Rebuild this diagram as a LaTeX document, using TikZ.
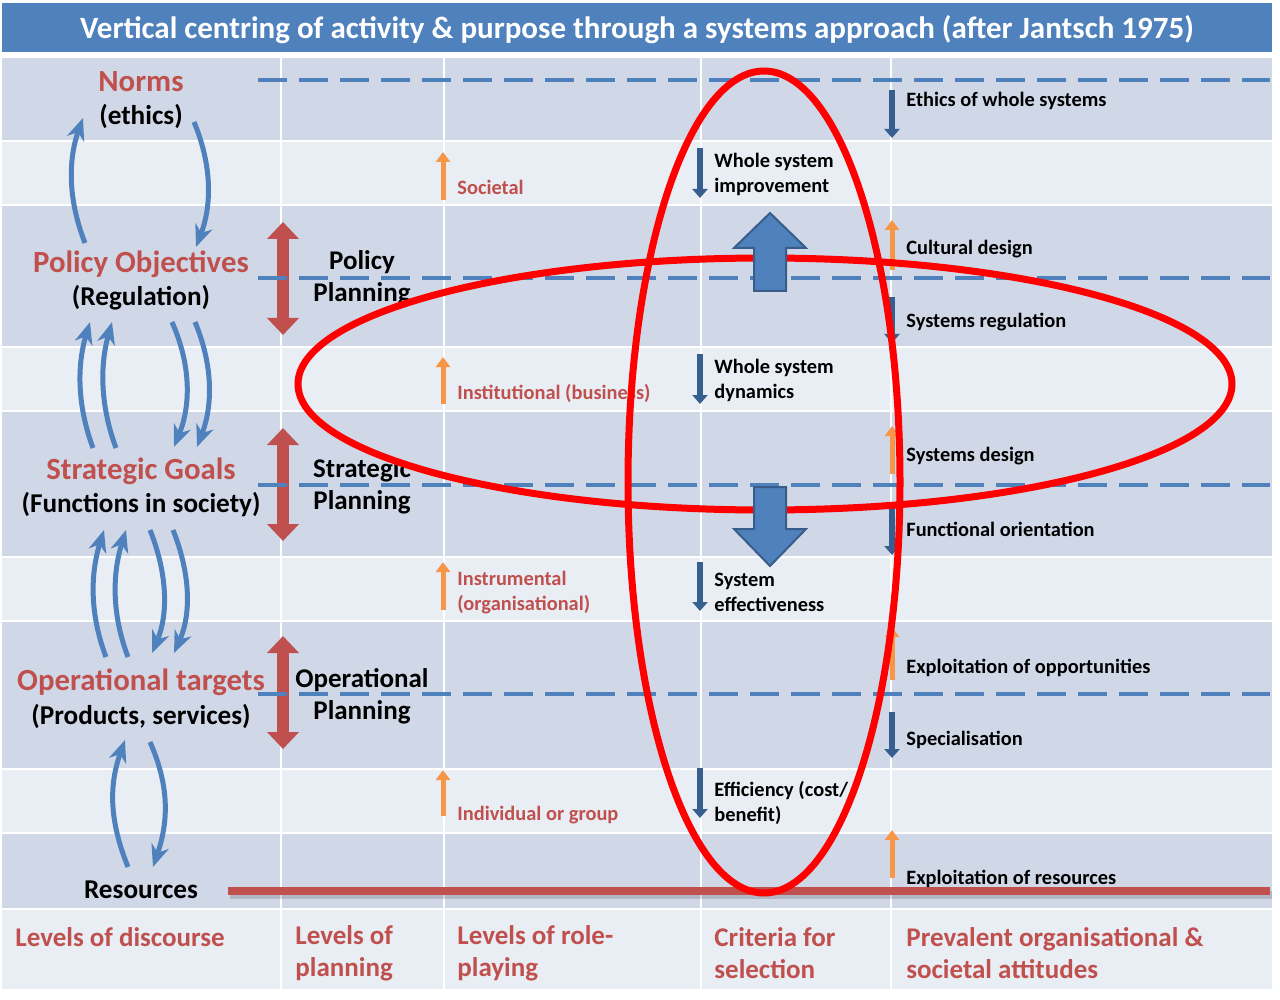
\documentclass[tikz,border=0pt]{standalone}
\usepackage{fontspec}
\setmainfont{Carlito}
\definecolor{vcblue}{RGB}{79,129,189}
\definecolor{vcedge}{RGB}{56,93,138}
\definecolor{vcnavy}{RGB}{54,94,143}
\definecolor{vcred}{RGB}{192,80,77}
\definecolor{vcorange}{RGB}{247,150,70}
\definecolor{vcdark}{RGB}{208,216,232}
\definecolor{vclight}{RGB}{233,237,244}
\definecolor{vcbright}{RGB}{255,0,0}
\usetikzlibrary{arrows.meta}

\begin{document}
\begin{tikzpicture}[x=0.5pt,y=-0.5pt,
  vchead/.style={font=\fontsize{15.5pt}{18pt}\selectfont\bfseries,text=white,inner sep=0pt,yshift=-1pt},
  vclevel/.style={font=\fontsize{15.4pt}{18pt}\selectfont\bfseries,text=vcred,inner sep=0pt,yshift=-1pt},
  vcsub/.style={font=\fontsize{13.6pt}{16pt}\selectfont\bfseries,inner sep=0pt,yshift=-1pt},
  vcplan/.style={font=\fontsize{13.5pt}{16pt}\selectfont\bfseries,align=center,inner sep=0pt,yshift=-1pt},
  vcnote/.style={font=\fontsize{10.2pt}{12.5pt}\selectfont\bfseries,align=left,anchor=west,inner sep=0pt,yshift=-1.25pt},
  vcfoot/.style={font=\fontsize{13.5pt}{16pt}\selectfont\bfseries,text=vcred,align=left,anchor=west,inner sep=0pt,yshift=-1pt},
  vcdash/.style={vcblue,line width=1.75pt,dash pattern=on 14.5pt off 6pt},
  vcloop/.style={vcblue,line width=2.5pt,-{Stealth[length=11pt,width=9pt,inset=3.5pt]}},
  vcrange/.style={vcred,line width=6pt,{Triangle[length=8.5pt,width=15.5pt]}-{Triangle[length=8.5pt,width=15.5pt]}},
  vcup/.style={vcorange,line width=2.5pt,-{Triangle[length=5pt,width=7pt]}},
  vcdown/.style={vcnavy,line width=2.75pt,-{Triangle[length=4.5pt,width=7.5pt]}},
  vcringline/.style={draw=vcbright,line width=3.5pt},
  vcblock/.style={fill=vcblue,draw=vcedge,line width=1pt,line join=miter}
]
  \useasboundingbox (0,0) rectangle (1280,1000);
  \fill[white] (0,0) rectangle (1280,1000);

  % Title bar
  \fill[vcblue] (2,3) rectangle (1272,52);
  \node[vchead] (title) at (637,28) {Vertical centring of activity \& purpose through a systems approach (after Jantsch 1975)};

  % Table bands
  \foreach \ya/\yb/\c in {58/140/vcdark,142/204/vclight,206/346/vcdark,348/410/vclight,
    412/556/vcdark,558/620/vclight,622/768/vcdark,770/832/vclight,834/908/vcdark,910/989/vclight}
    \fill[\c] (2,\ya) rectangle (1272,\yb);
  \foreach \x in {281,444,701,891}
    \draw[white,line width=1pt] (\x,58) -- (\x,989);

  % Levels of discourse
  \node[vclevel] (norms) at (141,80) {Norms};
  \node[vcsub] (ethics) at (141,114) {(ethics)};
  \node[vclevel] (polobj) at (141,262) {Policy Objectives};
  \node[vcsub] (regul) at (141,296) {(Regulation)};
  \node[vclevel] (stratg) at (141,469) {Strategic Goals};
  \node[vcsub] (funcs) at (141,503) {(Functions in society)};
  \node[vclevel] (optgt) at (141,680) {Operational targets};
  \node[vcsub] (prods) at (141,714) {(Products, services)};
  \node[vcsub] (resrc) at (141,888) {Resources};

  % Levels of planning
  \node[vcplan] (polplan) at (362,276) {Policy\\Planning};
  \node[vcplan] (strplan) at (362,484) {Strategic\\Planning};
  \node[vcplan] (opplan) at (362,694) {Operational\\Planning};

  % Levels of role-playing
  \node[vcnote,text=vcred] (societal) at (457,185) {Societal};
  \node[vcnote,text=vcred] (instit) at (457,391) {Institutional (business)};
  \node[vcnote,text=vcred] (instru) at (457,590) {Instrumental\\(organisational)};
  \node[vcnote,text=vcred] (indiv) at (457,813) {Individual or group};

  % Criteria for selection
  \node[vcnote] (wsimpr) at (714,172) {Whole system\\improvement};
  \node[vcnote] (wsdyn) at (714,378) {Whole system\\dynamics};
  \node[vcnote] (syseff) at (714,590) {System\\effectiveness};
  \node[vcnote] (effic) at (714,800) {Efficiency (cost/\\benefit)};

  % Attitudes
  \node[vcnote] (att1) at (906,98) {Ethics of whole systems};
  \node[vcnote] (att2) at (906,247) {Cultural design};
  \node[vcnote] (att3) at (906,320) {Systems regulation};
  \node[vcnote] (att4) at (906,454) {Systems design};
  \node[vcnote] (att5) at (906,527) {Functional orientation};
  \node[vcnote] (att6) at (906,665) {Exploitation of opportunities};
  \node[vcnote] (att7) at (906,737) {Specialisation};
  \node[vcnote] (att8) at (906,876) {Exploitation of resources};

  % Column footers
  \node[vcfoot] (footA) at (15,935) {Levels of discourse};
  \node[vcfoot] (footB) at (295,951) {Levels of\\planning};
  \node[vcfoot] (footC) at (457,951) {Levels of role-\\playing};
  \node[vcfoot] (footD) at (714,951) {Criteria for\\selection};
  \node[vcfoot] (footE) at (906,951) {Prevalent organisational \&\\societal attitudes};

  % Loops between levels
  \coordinate (l1a) at (85,243);  \coordinate (l1b) at (83,118);
  \coordinate (l2a) at (194,122); \coordinate (l2b) at (196,247);
  \draw[vcloop] (l1a) .. controls (68,200) and (68,160) .. (l1b);
  \draw[vcloop] (l2a) .. controls (212,165) and (212,205) .. (l2b);
  \coordinate (l3a) at (93,448);  \coordinate (l3b) at (90,322);
  \coordinate (l4a) at (116,448); \coordinate (l4b) at (112,322);
  \coordinate (l5a) at (172,322); \coordinate (l5b) at (174,447);
  \coordinate (l6a) at (195,322); \coordinate (l6b) at (197,447);
  \draw[vcloop] (l3a) .. controls (77,405) and (77,365) .. (l3b);
  \draw[vcloop] (l4a) .. controls (100,405) and (100,365) .. (l4b);
  \draw[vcloop] (l5a) .. controls (191,365) and (191,405) .. (l5b);
  \draw[vcloop] (l6a) .. controls (213,365) and (213,405) .. (l6b);
  \coordinate (l7a) at (106,657);  \coordinate (l7b) at (104,530);
  \coordinate (l8a) at (128,657);  \coordinate (l8b) at (126,530);
  \coordinate (l9a) at (150,530);  \coordinate (l9b) at (152,653);
  \coordinate (l10a) at (173,530); \coordinate (l10b) at (174,653);
  \draw[vcloop] (l7a) .. controls (90,615) and (90,575) .. (l7b);
  \draw[vcloop] (l8a) .. controls (112,615) and (112,575) .. (l8b);
  \draw[vcloop] (l9a) .. controls (168,575) and (168,615) .. (l9b);
  \draw[vcloop] (l10a) .. controls (191,575) and (191,615) .. (l10b);
  \coordinate (l11a) at (128,867); \coordinate (l11b) at (125,740);
  \coordinate (l12a) at (150,742); \coordinate (l12b) at (153,867);
  \draw[vcloop] (l11a) .. controls (109,820) and (109,785) .. (l11b);
  \draw[vcloop] (l12a) .. controls (169,785) and (169,820) .. (l12b);

  % Planning ranges
  \foreach \i/\ya/\yb in {1/222/335,2/428/541,3/636/749}{
    \coordinate (pr\i a) at (283,\ya);
    \coordinate (pr\i b) at (283,\yb);
    \draw[vcrange] (pr\i a) -- (pr\i b);
  }

  % Level boundaries
  \foreach \y in {80,278,485,694}
    \draw[vcdash] (258,\y) -- (1270,\y);

  % Role-playing markers
  \foreach \i/\ya/\yb in {1/200/152,2/404/357,3/610/562,4/816/770}{
    \coordinate (rp\i a) at (443,\ya);
    \coordinate (rp\i b) at (443,\yb);
    \draw[vcup] (rp\i a) -- (rp\i b);
  }

  % Criteria markers
  \foreach \i/\ya/\yb in {1/148/198,2/354/404,3/562/611,4/768/818}{
    \coordinate (cr\i a) at (700,\ya);
    \coordinate (cr\i b) at (700,\yb);
    \draw[vcdown] (cr\i a) -- (cr\i b);
  }

  % Attitude markers
  \foreach \i/\ya/\yb in {1/90/138,3/297/343,5/505/555,7/712/758}{
    \coordinate (at\i a) at (892,\ya);
    \coordinate (at\i b) at (892,\yb);
    \draw[vcdown] (at\i a) -- (at\i b);
  }
  \foreach \i/\ya/\yb in {2/270/220,4/474/426,6/680/627,8/878/830}{
    \coordinate (at\i a) at (892,\ya);
    \coordinate (at\i b) at (892,\yb);
    \draw[vcup] (at\i a) -- (at\i b);
  }

  % Resource base line
  \draw[black,opacity=0.15,line width=4pt] (230,895) -- (1272,895);
  \draw[vcred,line width=4pt] (228,891) -- (1270,891);

  % Centring rings
  \draw[vcringline] (764,482) ellipse [x radius=68pt, y radius=205.5pt];
  \draw[vcringline] (765,384) ellipse [x radius=233.5pt, y radius=63pt];

  % Block arrows
  \draw[vcblock] (754,291) -- (754,248) -- (734,248) -- (770,213) -- (806,248)
    -- (786,248) -- (786,291) -- cycle;
  \draw[vcblock] (754,487) -- (754,529) -- (734,529) -- (770,566) -- (806,529)
    -- (786,529) -- (786,487) -- cycle;
\end{tikzpicture}
\end{document}
